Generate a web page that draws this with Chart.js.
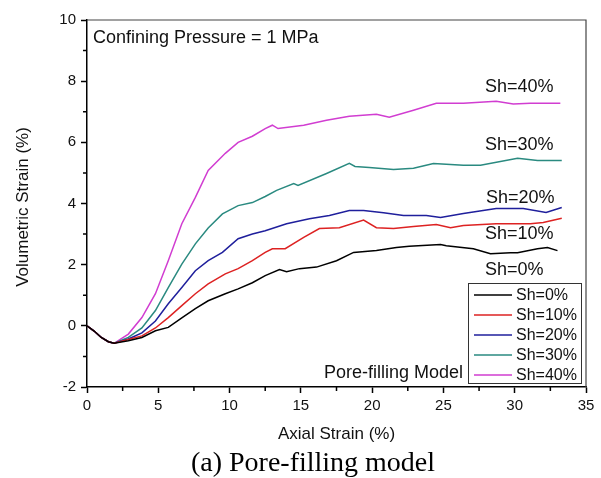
<!DOCTYPE html>
<html lang="en">
<head>
  <meta charset="UTF-8" />
  <title>Pore-filling model</title>
  <script src="https://cdn.jsdelivr.net/npm/chart.js"></script>
  <style>
    html, body {
      margin: 0;
      padding: 0;
      background: #fff;
    }
    #wrap {
      width: 601px;
      height: 478px;
    }
  </style>
</head>
<body>
  <div id="wrap">
    <canvas id="strainChart" width="601" height="478"></canvas>
  </div>

  <script>
    // values (axial strain %, volumetric strain %)
    const labels = ['Sh=0%', 'Sh=10%', 'Sh=20%', 'Sh=30%', 'Sh=40%'];
    const colors = ['#000000', '#dd2222', '#1f1f9c', '#2a8a80', '#d13dd1'];

    const x0 = [0, 0.5, 1, 1.5, 1.9, 2.9, 3.85, 4.8, 5.7, 6.65, 7.6, 8.5, 9.7, 10.6, 11.6, 12.5, 13.5, 14.0, 14.9, 16.1, 17.5, 18.7, 20.3, 21.7, 22.6, 24.8, 25.2, 27.1, 28.3, 29.7, 30.2, 31.6, 32.3, 33.0];
    const y0 = [0, -0.17, -0.38, -0.52, -0.57, -0.49, -0.38, -0.16, -0.05, 0.26, 0.56, 0.82, 1.05, 1.21, 1.41, 1.64, 1.84, 1.77, 1.87, 1.92, 2.13, 2.4, 2.46, 2.56, 2.6, 2.66, 2.62, 2.52, 2.36, 2.39, 2.39, 2.52, 2.56, 2.46];

    const x10 = [0, 0.5, 1, 1.5, 1.9, 2.9, 3.85, 4.8, 5.7, 6.65, 7.6, 8.5, 9.7, 10.6, 11.6, 12.5, 13.0, 13.9, 15.2, 16.3, 17.7, 19.4, 20.3, 21.5, 22.9, 24.5, 25.5, 26.4, 28.7, 31.1, 32.0, 33.3];
    const y10 = [0, -0.17, -0.38, -0.52, -0.57, -0.45, -0.33, -0.07, 0.27, 0.66, 1.05, 1.37, 1.7, 1.87, 2.13, 2.4, 2.52, 2.52, 2.89, 3.18, 3.21, 3.46, 3.21, 3.18, 3.25, 3.31, 3.21, 3.28, 3.34, 3.34, 3.38, 3.52];

    const x20 = [0, 0.5, 1, 1.5, 1.9, 2.9, 3.85, 4.8, 5.7, 6.65, 7.6, 8.5, 9.5, 10.6, 11.6, 12.5, 14.0, 15.6, 17.0, 18.4, 19.4, 20.8, 22.2, 23.8, 24.8, 26.4, 28.7, 30.6, 32.2, 33.3];
    const y20 = [0, -0.17, -0.38, -0.52, -0.57, -0.43, -0.23, 0.16, 0.72, 1.25, 1.8, 2.13, 2.4, 2.85, 3.0, 3.11, 3.34, 3.5, 3.61, 3.77, 3.77, 3.7, 3.61, 3.61, 3.54, 3.67, 3.84, 3.84, 3.71, 3.87];

    const x30 = [0, 0.5, 1, 1.5, 1.9, 2.9, 3.85, 4.8, 5.7, 6.65, 7.6, 8.5, 9.5, 10.6, 11.6, 12.5, 13.3, 14.5, 14.8, 16.8, 18.4, 18.8, 19.8, 21.5, 22.9, 24.3, 26.4, 27.6, 30.2, 31.6, 33.3];
    const y30 = [0, -0.17, -0.38, -0.52, -0.57, -0.38, -0.07, 0.5, 1.25, 2.02, 2.68, 3.2, 3.66, 3.93, 4.03, 4.23, 4.43, 4.65, 4.59, 4.98, 5.31, 5.21, 5.18, 5.11, 5.15, 5.31, 5.25, 5.25, 5.48, 5.41, 5.41];

    const x40 = [0, 0.5, 1, 1.5, 1.9, 2.9, 3.85, 4.8, 5.7, 6.65, 7.6, 8.5, 9.7, 10.6, 11.6, 12.5, 13.0, 13.4, 15.2, 16.8, 18.4, 20.3, 21.2, 22.9, 24.5, 26.4, 28.7, 29.9, 31.1, 33.2];
    const y40 = [0, -0.17, -0.38, -0.52, -0.57, -0.27, 0.27, 1.05, 2.13, 3.34, 4.2, 5.08, 5.64, 6.0, 6.2, 6.45, 6.56, 6.45, 6.56, 6.72, 6.85, 6.92, 6.82, 7.05, 7.28, 7.28, 7.34, 7.25, 7.28, 7.28];

    const xSeries = [x0, x10, x20, x30, x40];
    const ySeries = [y0, y10, y20, y30, y40];

    const xMajor = [0, 5, 10, 15, 20, 25, 30, 35];
    const yMajor = [-2, 0, 2, 4, 6, 8, 10];

    const sans = '"Liberation Sans", Arial, sans-serif';

    const datasets = labels.map((name, i) => ({
      label: name,
      data: xSeries[i].map((x, j) => ({ x: x, y: ySeries[i][j] })),
      borderColor: colors[i],
      borderWidth: 1.5,
      pointRadius: 0,
      tension: 0,
      fill: false
    }));

    // only major ticks get the long chart.js tick mark, minor ones are drawn short below
    const majorTickColor = list => c => list.includes(c.tick && c.tick.value) ? '#000' : 'rgba(0,0,0,0)';

    // frame, minor ticks, annotations, legend box and caption
    const decor = {
      id: 'decor',
      afterDraw(chart) {
        const ctx = chart.ctx;
        const a = chart.chartArea;
        const sx = chart.scales.x;
        const sy = chart.scales.y;
        ctx.save();

        ctx.strokeStyle = '#444';
        ctx.lineWidth = 1.2;
        ctx.beginPath();
        ctx.moveTo(a.left, a.top);
        ctx.lineTo(a.right, a.top);
        ctx.lineTo(a.right, a.bottom);
        ctx.stroke();

        ctx.strokeStyle = '#000';
        ctx.lineWidth = 1.5;
        ctx.beginPath();
        sx.ticks.forEach(t => {
          if (xMajor.includes(t.value)) return;
          const px = sx.getPixelForValue(t.value);
          ctx.moveTo(px, a.bottom);
          ctx.lineTo(px, a.bottom + 4);
        });
        sy.ticks.forEach(t => {
          if (yMajor.includes(t.value)) return;
          const py = sy.getPixelForValue(t.value);
          ctx.moveTo(a.left, py);
          ctx.lineTo(a.left - 4, py);
        });
        ctx.stroke();

        ctx.fillStyle = '#111';
        ctx.textBaseline = 'alphabetic';
        ctx.textAlign = 'left';
        ctx.font = '18px ' + sans;
        ctx.fillText('Confining Pressure = 1 MPa', 93, 43);
        ctx.fillText('Sh=40%', 485, 92);
        ctx.fillText('Sh=30%', 485, 150);
        ctx.fillText('Sh=20%', 486, 203);
        ctx.fillText('Sh=10%', 485, 239);
        ctx.fillText('Sh=0%', 485, 275);
        ctx.fillText('Pore-filling Model', 324, 378);

        // legend
        ctx.fillStyle = '#fff';
        ctx.fillRect(468, 283, 114, 101);
        ctx.strokeStyle = '#333';
        ctx.lineWidth = 1;
        ctx.strokeRect(468.5, 283.5, 113, 100);
        ctx.font = '16px ' + sans;
        ctx.textBaseline = 'middle';
        labels.forEach((name, i) => {
          const y = 295 + i * 20;
          ctx.strokeStyle = colors[i];
          ctx.lineWidth = 1.5;
          ctx.beginPath();
          ctx.moveTo(474, y);
          ctx.lineTo(512, y);
          ctx.stroke();
          ctx.fillStyle = '#111';
          ctx.fillText(name, 516, y + 1);
        });

        // axis titles
        ctx.textAlign = 'center';
        ctx.textBaseline = 'alphabetic';
        ctx.font = '17px ' + sans;
        ctx.fillText('Axial Strain (%)', (a.left + a.right) / 2, 439);
        ctx.save();
        ctx.translate(28, 207);
        ctx.rotate(-Math.PI / 2);
        ctx.fillText('Volumetric Strain (%)', 0, 0);
        ctx.restore();

        ctx.font = '28px "Liberation Serif", "Times New Roman", serif';
        ctx.fillStyle = '#000';
        ctx.fillText('(a) Pore-filling model', 313, 471);
        ctx.restore();
      }
    };

    const ctx = document.getElementById('strainChart').getContext('2d');
    new Chart(ctx, {
      type: 'line',
      data: { datasets: datasets },
      options: {
        responsive: false,
        animation: false,
        layout: { padding: { top: 20, right: 15, left: 0, bottom: 0 } },
        plugins: {
          legend: { display: false },
          tooltip: { enabled: false }
        },
        scales: {
          x: {
            type: 'linear',
            min: 0,
            max: 35,
            afterFit: s => { s.height = 91; },
            afterBuildTicks: s => {
              s.ticks = [];
              for (let v = 0; v <= 35; v += 2.5) s.ticks.push({ value: v });
            },
            ticks: {
              padding: 4,
              color: '#111',
              font: { family: sans, size: 15 },
              maxRotation: 0,
              autoSkip: false,
              callback: v => xMajor.includes(v) ? String(v) : ''
            },
            grid: {
              display: true,
              drawOnChartArea: false,
              drawTicks: true,
              tickLength: 6,
              tickColor: majorTickColor(xMajor),
              tickWidth: 1.5
            },
            border: { display: true, color: '#000', width: 1.5 }
          },
          y: {
            min: -2,
            max: 10,
            afterFit: s => { s.width = 87; },
            afterBuildTicks: s => {
              s.ticks = [];
              for (let v = -2; v <= 10; v += 1) s.ticks.push({ value: v });
            },
            ticks: {
              padding: 5,
              color: '#111',
              font: { family: sans, size: 15 },
              autoSkip: false,
              callback: v => yMajor.includes(v) ? String(v) : ''
            },
            grid: {
              display: true,
              drawOnChartArea: false,
              drawTicks: true,
              tickLength: 6,
              tickColor: majorTickColor(yMajor),
              tickWidth: 1.5
            },
            border: { display: true, color: '#000', width: 1.5 }
          }
        }
      },
      plugins: [decor]
    });
  </script>
</body>
</html>
